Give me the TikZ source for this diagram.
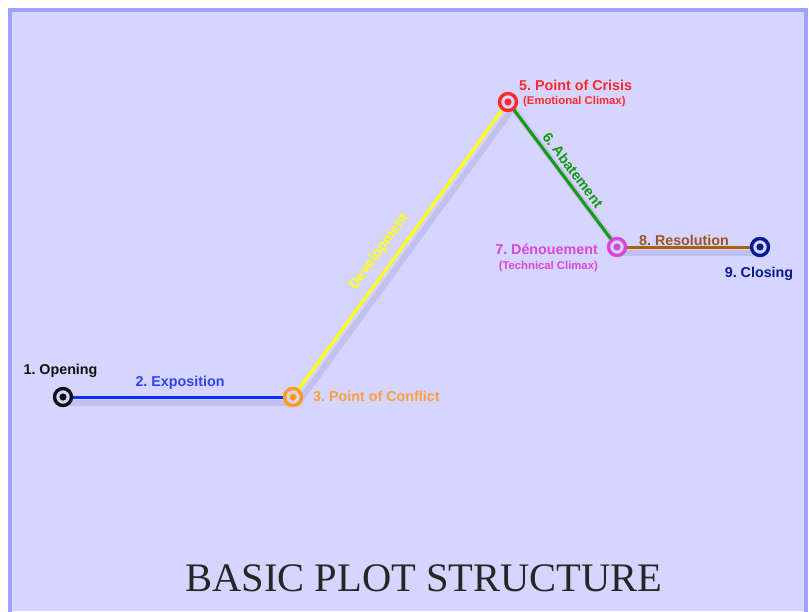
\documentclass[tikz,border=0pt]{standalone}
\usepackage{fontspec}
\setmainfont{Liberation Serif}
\setsansfont{Liberation Sans}
\usetikzlibrary{calc}
\definecolor{bgfill}{HTML}{D5D5FF}
\definecolor{frame}{HTML}{A0A0FF}
\definecolor{cblack}{HTML}{111111}
\definecolor{cblue}{HTML}{0A2EFF}
\definecolor{cblueT}{HTML}{3344EE}
\definecolor{corange}{HTML}{FF9A1A}
\definecolor{corangeT}{HTML}{FFA040}
\definecolor{cyellow}{HTML}{FFFF10}
\definecolor{cred}{HTML}{FF2A2A}
\definecolor{cgreen}{HTML}{149A14}
\definecolor{cmag}{HTML}{D946D9}
\definecolor{cbrown}{HTML}{A8620F}
\definecolor{cbrownT}{HTML}{995522}
\definecolor{cnavy}{HTML}{0A1A8C}
\definecolor{shadowc}{HTML}{AFAFE0}
\frenchspacing
\tikzset{
  ring/.style={circle, draw=#1, line width=3.4pt, fill=bgfill, minimum size=17pt, inner sep=0pt,
    path picture={\fill[#1] (path picture bounding box.center) circle (3.6pt);}},
  seg/.style={line width=3pt, draw=#1},
  shadowseg/.style={line width=6pt, draw=shadowc, opacity=0.5},
  lbl/.style={font=\sffamily\bfseries\fontsize{14.3}{16}\selectfont, text=#1, inner sep=0pt},
  sublbl/.style={font=\sffamily\bfseries\fontsize{11.3}{13}\selectfont, text=#1, inner sep=0pt},
}
\begin{document}
\begin{tikzpicture}[x=1pt,y=-1pt]
\useasboundingbox (0,0) rectangle (809,611);
\fill[white] (0,0) rectangle (809,611);
\fill[bgfill] (8,8) rectangle (808,611);
\draw[frame, line width=4pt] (10,613) -- (10,10) -- (806,10) -- (806,613);
% shadows
\draw[shadowseg] (68,403) -- (298,403) -- (513,108) -- (622,253) -- (765,253);
% nodes
\coordinate (p1) at (63,397);
\coordinate (p3) at (293,397);
\coordinate (p5) at (508,102);
\coordinate (p7) at (617,247);
\coordinate (p9) at (760,247);
\draw[seg=cblue] (p1) -- (p3);
\draw[seg=cyellow] (p3) -- (p5);
\draw[seg=cgreen] (p5) -- (p7);
\draw[seg=cbrown] (p7) -- (p9);
\node[ring=cblack] (n1) at (p1) {};
\node[ring=corange] (n3) at (p3) {};
\node[ring=cred] (n5) at (p5) {};
\node[ring=cmag] (n7) at (p7) {};
\node[ring=cnavy] (n9) at (p9) {};
% labels
\node[lbl=cblack] (l1) at (60.5,371) {1. Opening};
\node[lbl=cblueT] (l2) at (180,383) {2. Exposition};
\node[lbl=corangeT, anchor=west] (l3) at (313,396) {3. Point of Conflict};
\node[lbl=cyellow, rotate=53.9] (l4) at (379,252) {Development};
\node[lbl=cred, anchor=west] (l5) at (519,85) {5. Point of Crisis};
\node[sublbl=cred, anchor=west] (l5b) at (523,102) {(Emotional Climax)};
\node[lbl=cgreen, rotate=-53.1] (l6) at (573,170) {6. Abatement};
\node[lbl=cmag, anchor=east] (l7) at (598,249) {7. Dénouement};
\node[sublbl=cmag, anchor=east] (l7b) at (598,267) {(Technical Climax)};
\node[lbl=cbrownT] (l8) at (684,240) {8. Resolution};
\node[lbl=cnavy] (l9) at (759,274) {9. Closing};
\node[font=\fontsize{40.5}{46}\selectfont, text=black!85, inner sep=0pt] (title) at (424,578) {BASIC PLOT STRUCTURE};
\end{tikzpicture}
\end{document}
